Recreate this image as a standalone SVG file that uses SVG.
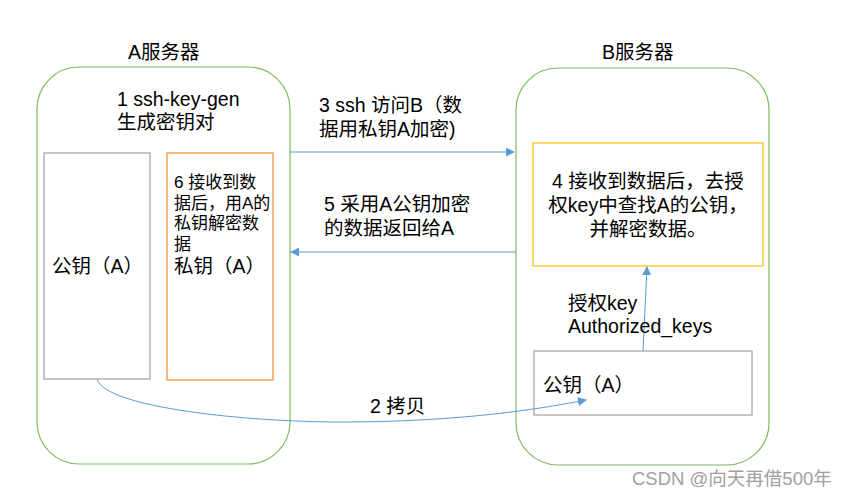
<svg xmlns="http://www.w3.org/2000/svg" width="851" height="497" viewBox="0 0 851 497">
<style>
text{font-family:"Liberation Sans","Noto Sans CJK SC",sans-serif;fill:#000;font-size:19.5px}
.s{font-size:17px}
.srv{fill:none;stroke:#7fba5a;stroke-width:1.2}
.gray{fill:#fff;stroke:#b4b4b4;stroke-width:1.5}
.org{fill:#fff;stroke:#f4a05a;stroke-width:1.5}
.yel{fill:#fff;stroke:#ffc000;stroke-width:1.2}
.conn{fill:none;stroke:#5b9bd5;stroke-width:1}
.wm{fill:#a0a0a0;font-size:18.5px}
</style>
<defs>
<marker id="ah" viewBox="0 0 10 10" refX="9" refY="5" markerWidth="9" markerHeight="9" markerUnits="userSpaceOnUse" orient="auto">
<path d="M0,0 L10,5 L0,10 z" fill="#5b9bd5"/>
</marker>
</defs>
<rect width="851" height="497" fill="#fff"/>
<g id="serverA">
<rect class="srv" x="37" y="67" width="253" height="397" rx="42" ry="42"/>
<text x="128" y="59">A服务器</text>
<text x="117" y="106">1 ssh-key-gen</text>
<text x="117" y="129">生成密钥对</text>
</g>
<g id="pubA">
<rect class="gray" x="44" y="153" width="106" height="226"/>
<text x="52" y="273">公钥（A）</text>
</g>
<g id="privA">
<rect class="org" x="167" y="153" width="106" height="227"/>
<text class="s" x="174" y="188">6 接收到数</text>
<text class="s" x="174" y="208.5">据后，用A的</text>
<text class="s" x="174" y="229">私钥解密数</text>
<text class="s" x="174" y="249.5">据</text>
<text x="174" y="273">私钥（A）</text>
</g>
<g id="serverB">
<rect class="srv" x="516" y="68" width="253" height="397" rx="42" ry="42"/>
<text x="602" y="59">B服务器</text>
</g>
<g id="decryptB">
<rect class="yel" x="533" y="143" width="230" height="123"/>
<text x="648" y="188" text-anchor="middle">4 接收到数据后，去授</text>
<text x="648" y="212" text-anchor="middle">权key中查找A的公钥，</text>
<text x="648" y="236" text-anchor="middle">并解密数据。</text>
</g>
<g id="pubB">
<rect class="gray" x="534" y="351" width="218" height="64"/>
<text x="543" y="392">公钥（A）</text>
</g>
<g id="connectors">
<line class="conn" x1="290" y1="152" x2="514" y2="152" marker-end="url(#ah)"/>
<text x="319" y="112">3 ssh 访问B（数</text>
<text x="319" y="136">据用私钥A加密)</text>
<line class="conn" x1="516" y1="252" x2="291" y2="252" marker-end="url(#ah)"/>
<text x="324" y="211">5 采用A公钥加密</text>
<text x="324" y="235">的数据返回给A</text>
<line class="conn" x1="643" y1="351" x2="647" y2="267" marker-end="url(#ah)"/>
<text x="568" y="310">授权key</text>
<text x="568" y="333">Authorized_keys</text>
<path class="conn" d="M97,379 C105,408 250,422 340,422 C440,422 520,413 586,400" marker-end="url(#ah)"/>
<text x="370" y="413">2 拷贝</text>
</g>
<text class="wm" x="632" y="485">CSDN @向天再借500年</text>
</svg>
